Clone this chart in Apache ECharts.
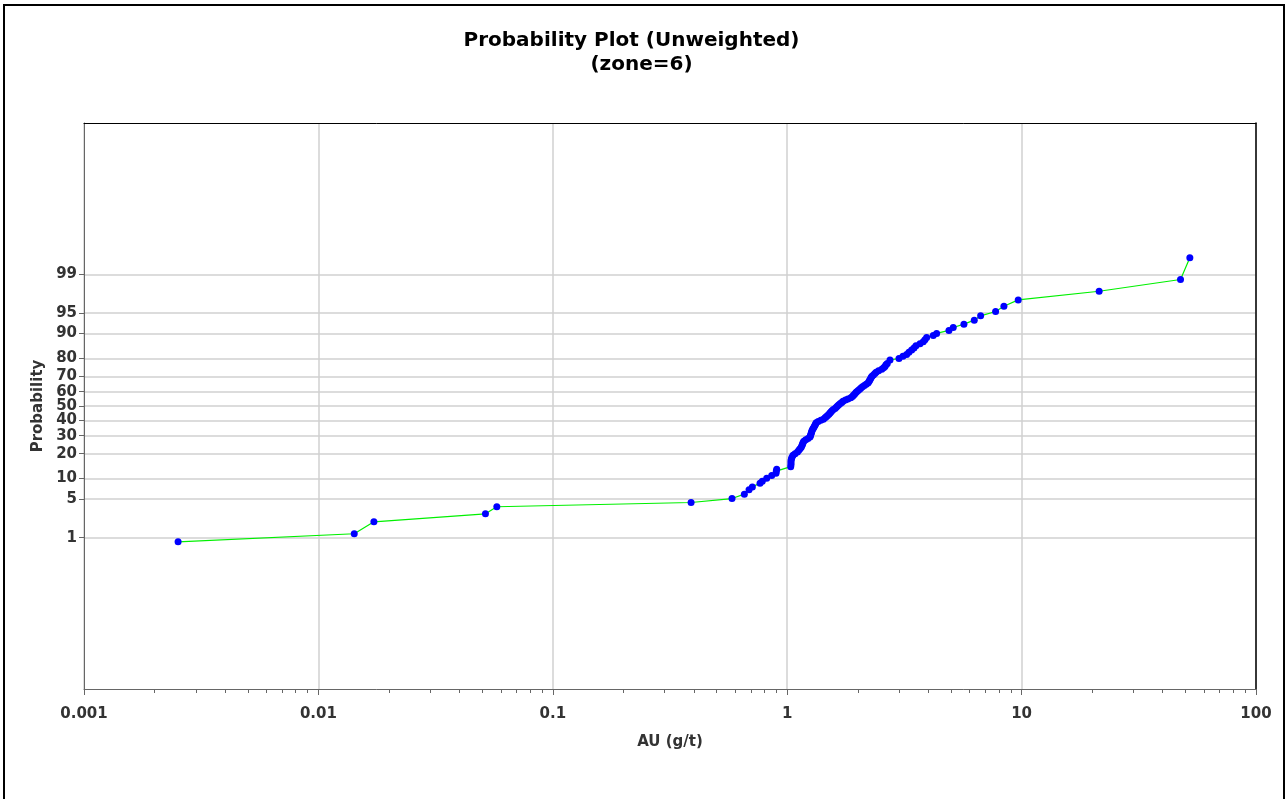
<!DOCTYPE html>
<html><head><meta charset="utf-8">
<script src="https://cdn.jsdelivr.net/npm/echarts@6/dist/echarts.min.js"></script>
<style>html,body{margin:0;padding:0;background:#fff}#c{width:1288px;height:799px}</style>
</head><body><div id="c"></div>
<script>
// ---- data ----
const titleLines = ['Probability Plot (Unweighted)', '(zone=6)'];
const xAxisName = 'AU (g/t)';
const yAxisName = 'Probability';

// AU grade values (g/t), sorted ascending
const auValues = [
  0.00252, 0.01422, 0.01725, 0.0516, 0.0577, 0.389, 0.5815, 0.6564, 0.6874, 0.7101,
  0.7656, 0.7830, 0.8177, 0.8590, 0.8959, 0.8986, 0.9020, 1.035,
  1.038, 1.038, 1.038, 1.042, 1.048, 1.059, 1.080, 1.106, 1.121, 1.134,
  1.148, 1.156, 1.162, 1.168, 1.177, 1.200, 1.227, 1.251, 1.256, 1.261,
  1.267, 1.272, 1.277, 1.286, 1.296, 1.305, 1.314, 1.322, 1.329, 1.356,
  1.391, 1.427, 1.450, 1.468, 1.487, 1.507, 1.522, 1.536, 1.552, 1.573,
  1.599, 1.620, 1.639, 1.660, 1.685, 1.708, 1.730, 1.773, 1.816, 1.867,
  1.898, 1.917, 1.938, 1.960, 1.979, 2.008, 2.038, 2.064, 2.095, 2.134,
  2.172, 2.211, 2.233, 2.248, 2.264, 2.281, 2.299, 2.333, 2.366, 2.396,
  2.454, 2.532, 2.579, 2.613, 2.638,
  2.673, 2.745, 2.998, 3.118, 3.233, 3.307, 3.396, 3.474, 3.543, 3.685,
  3.806, 3.870, 3.935, 4.198, 4.340, 4.898, 5.109, 5.675, 6.281, 6.687,
  7.746, 8.405, 9.672, 21.42, 47.64, 52.21
];
// cumulative probability (%) for each value
const probPercent = [
  0.82, 1.20, 2.04, 2.84, 3.75, 4.41, 5.10, 5.97, 6.93, 7.65,
  8.64, 9.21, 10.11, 10.95, 11.77, 12.5, 13.2, 14.2,
  15.0, 15.8, 16.7, 17.5, 18.3, 19.2, 20.0, 20.8, 21.7, 22.5,
  23.3, 24.2, 25.0, 25.8, 26.7, 27.5, 28.3, 29.2, 30.0, 30.8,
  31.7, 32.5, 33.3, 34.2, 35.0, 35.8, 36.7, 37.5, 38.3, 39.2,
  40.0, 40.8, 41.7, 42.5, 43.3, 44.2, 45.0, 45.8, 46.7, 47.5,
  48.3, 49.2, 50.0, 50.8, 51.7, 52.5, 53.3, 54.2, 55.0, 55.8,
  56.7, 57.5, 58.3, 59.2, 60.0, 60.8, 61.7, 62.5, 63.3, 64.2,
  65.0, 65.8, 66.7, 67.5, 68.3, 69.2, 70.0, 70.8, 71.7, 72.5,
  73.3, 74.2, 75.0, 75.8, 76.7,
  77.42, 79.13, 79.99, 81.0, 81.9, 82.9, 83.84, 84.7, 85.62, 86.4,
  87.16, 87.9, 88.72, 89.38, 90.01, 90.91, 91.74, 92.59, 93.53, 94.44,
  95.25, 96.11, 96.96, 97.87, 98.73, 99.56
];

const probTicks = [1, 5, 10, 20, 30, 40, 50, 60, 70, 80, 90, 95, 99];
const probTickLabels = ['1', '5', '10', '20', '30', '40', '50', '60', '70', '80', '90', '95', '99'];
const xTicks = [0.001, 0.01, 0.1, 1, 10, 100];
const xTickLabels = ['0.001', '0.01', '0.1', '1', '10', '100'];

// ---- probability (normal-score) scale ----
function normInv(p) {
  const a = [-3.969683028665376e+01, 2.209460984245205e+02, -2.759285104469687e+02, 1.383577518672690e+02, -3.066479806614716e+01, 2.506628277459239e+00];
  const b = [-5.447609879822406e+01, 1.615858368580409e+02, -1.556989798598866e+02, 6.680131188771972e+01, -1.328068155288572e+01];
  const c = [-7.784894002430293e-03, -3.223964580411365e-01, -2.400758277161838e+00, -2.549732539343734e+00, 4.374664141464968e+00, 2.938163982698783e+00];
  const d = [7.784695709041462e-03, 3.224671290700398e-01, 2.445134137142996e+00, 3.754408661907416e+00];
  const pl = 0.02425, ph = 1 - pl;
  let q, r;
  if (p < pl) {
    q = Math.sqrt(-2 * Math.log(p));
    return (((((c[0]*q+c[1])*q+c[2])*q+c[3])*q+c[4])*q+c[5]) / ((((d[0]*q+d[1])*q+d[2])*q+d[3])*q+1);
  }
  if (p > ph) {
    q = Math.sqrt(-2 * Math.log(1 - p));
    return -(((((c[0]*q+c[1])*q+c[2])*q+c[3])*q+c[4])*q+c[5]) / ((((d[0]*q+d[1])*q+d[2])*q+d[3])*q+1);
  }
  q = p - 0.5; r = q * q;
  return (((((a[0]*r+a[1])*r+a[2])*r+a[3])*r+a[4])*r+a[5])*q / (((((b[0]*r+b[1])*r+b[2])*r+b[3])*r+b[4])*r+1);
}
const zTicks = probTicks.map(p => normInv(p / 100));
const seriesData = auValues.map((v, i) => [v, normInv(probPercent[i] / 100)]);

const minorTicks = [];
for (let i = 0; i < xTicks.length - 1; i++) {
  for (let k = 2; k <= 9; k++) minorTicks.push(+(xTicks[i] * k).toPrecision(6));
}

const FONT = 'DejaVu Sans';
const labelStyle = { fontFamily: FONT, fontWeight: 'bold', fontSize: 15, color: '#333' };
const axisGray = '#666';
const gridGray = '#d0d0d0';

const chart = echarts.init(document.getElementById('c'), null, { renderer: 'canvas' });
chart.setOption({
  animation: false,
  backgroundColor: '#fff',
  graphic: [
    { type: 'rect', silent: true, z: -10,
      shape: { x: 4, y: 5, width: 1280, height: 820 },
      style: { fill: 'none', stroke: '#000', lineWidth: 2 } },
    { type: 'text', silent: true, x: 631.5, y: 41,
      style: { text: titleLines[0], fill: '#000', font: 'bold 20px "DejaVu Sans"', textAlign: 'center', textVerticalAlign: 'middle' } },
    { type: 'text', silent: true, x: 641.5, y: 65,
      style: { text: titleLines[1], fill: '#000', font: 'bold 20px "DejaVu Sans"', textAlign: 'center', textVerticalAlign: 'middle' } }
  ],
  grid: { left: 84, right: 32, top: 123, bottom: 110, containLabel: false },
  xAxis: [
    {
      type: 'log', logBase: 10, min: 0.001, max: 100, position: 'bottom',
      name: xAxisName, nameLocation: 'middle', nameGap: 46,
      nameTextStyle: labelStyle,
      axisLine: { show: true, onZero: false, lineStyle: { color: axisGray, width: 1 } },
      axisTick: { show: true, length: 6, lineStyle: { color: axisGray } },
      axisLabel: {
        ...labelStyle, margin: 18,
        formatter: v => {
          const L = Math.round(Math.log10(v));
          const i = xTicks.findIndex(t => Math.round(Math.log10(t)) === L);
          return i >= 0 ? xTickLabels[i] : '';
        }
      },
      splitLine: { show: true, lineStyle: { color: gridGray, width: 1.5 } },
      minorTick: { show: false }
    },
    {
      type: 'log', logBase: 10, min: 0.001, max: 100, position: 'bottom',
      axisLine: { show: false, onZero: false },
      axisTick: { show: true, length: 4, customValues: minorTicks, lineStyle: { color: axisGray } },
      axisLabel: { show: false },
      splitLine: { show: false }
    },
    {
      type: 'log', logBase: 10, min: 0.001, max: 100, position: 'top',
      axisLine: { show: true, onZero: false, lineStyle: { color: '#000', width: 1 } },
      axisTick: { show: false }, axisLabel: { show: false }, splitLine: { show: false }
    }
  ],
  yAxis: [
    {
      type: 'value', min: -5, max: 5, position: 'left',
      name: yAxisName, nameLocation: 'middle', nameGap: 38,
      nameTextStyle: labelStyle,
      axisLine: { show: true, onZero: false, lineStyle: { color: axisGray, width: 1 } },
      axisTick: { show: true, length: 5, customValues: zTicks, lineStyle: { color: axisGray } },
      axisLabel: {
        ...labelStyle, margin: 7, customValues: zTicks,
        formatter: v => {
          const i = zTicks.findIndex(z => Math.abs(z - v) < 1e-6);
          return i >= 0 ? probTickLabels[i] : '';
        }
      },
      splitLine: { show: true, lineStyle: { color: gridGray, width: 1.5 } }
    },
    {
      type: 'value', min: -5, max: 5, position: 'right',
      axisLine: { show: true, onZero: false, lineStyle: { color: '#000', width: 1.5 } },
      axisTick: { show: false }, axisLabel: { show: false }, splitLine: { show: false }
    }
  ],
  series: [
    {
      type: 'line', xAxisIndex: 0, yAxisIndex: 0,
      data: seriesData,
      showSymbol: true, symbol: 'circle', symbolSize: 7,
      lineStyle: { color: '#00f000', width: 1.2 },
      itemStyle: { color: '#0000ff', borderWidth: 0 },
      emphasis: { disabled: true }
    }
  ]
});
</script>
</body></html>
